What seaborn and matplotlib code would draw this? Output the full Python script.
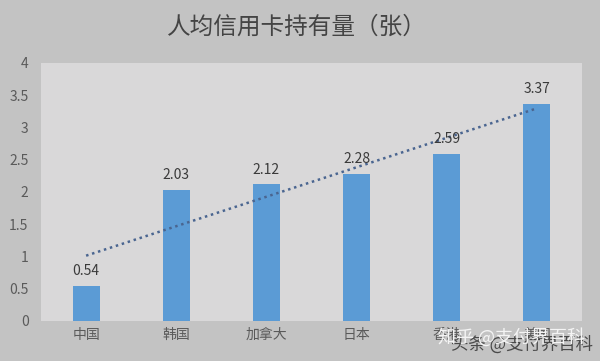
import numpy as np
import pandas as pd
import matplotlib
matplotlib.use("Agg")
import matplotlib.pyplot as plt
import seaborn as sns

categories = ["中国", "韩国", "加拿大", "日本", "香港", "美国"]
values = [0.54, 2.03, 2.12, 2.28, 2.59, 3.37]
y_ticks = [0, 0.5, 1, 1.5, 2, 2.5, 3, 3.5, 4]
y_tick_labels = ["0", "0.5", "1", "1.5", "2", "2.5", "3", "3.5", "4"]
title = "人均信用卡持有量（张）"
watermark = "知乎 @支付界百科"
watermark2 = "头条 @支付界百科"

sns.set_theme(style="white")
plt.rcParams["font.family"] = ["Noto Sans CJK SC", "DejaVu Sans"]

df = pd.DataFrame({"cat": categories, "val": values})

fig = plt.figure(figsize=(6, 3.61), dpi=100)
fig.patch.set_facecolor("#c3c3c3")
ax = fig.add_axes([41/600, 1-321/361, (582-41)/600, (321-63)/361])
ax.set_facecolor("#d9d8d9")

sns.barplot(data=df, x="cat", y="val", color="#5b9bd5", width=0.3,
            saturation=1, linewidth=0, edgecolor="none", ax=ax, zorder=2)

sns.regplot(x=np.arange(len(categories)), y=np.array(values), scatter=False,
            ci=None, ax=ax, truncate=True,
            line_kws=dict(color="#4a6590", linestyle=(0, (1, 1.5)), linewidth=1.8, zorder=3))

for i, v in enumerate(values):
    ax.text(i, v + 0.12, f"{v:.2f}", ha="center", va="bottom", fontsize=10, color="#3a3a3a", zorder=4)

ax.set_xlim(-0.5, len(categories) - 0.5)
ax.set_ylim(0, 4)
ax.set_yticks(y_ticks)
ax.set_yticklabels(y_tick_labels)
ax.set_xlabel("")
ax.set_ylabel("")
ax.tick_params(axis="both", length=0, labelsize=10, labelcolor="#5a5a5a")
ax.tick_params(axis="y", pad=9)
ax.tick_params(axis="x", pad=5)
for s in ax.spines.values():
    s.set_visible(False)

fig.text(297/600, 1-27/361, title, ha="center", va="center", fontsize=17, color="#444444")

fig.text(522/600, 1-345/361, watermark2, ha="center", va="center", fontsize=12.5, color="#4a4a4a")
fig.text(511/600, 1-337/361, watermark, ha="center", va="center", fontsize=13, color="#f4f4f4")

fig.savefig("out.png", dpi=100, facecolor=fig.get_facecolor())
